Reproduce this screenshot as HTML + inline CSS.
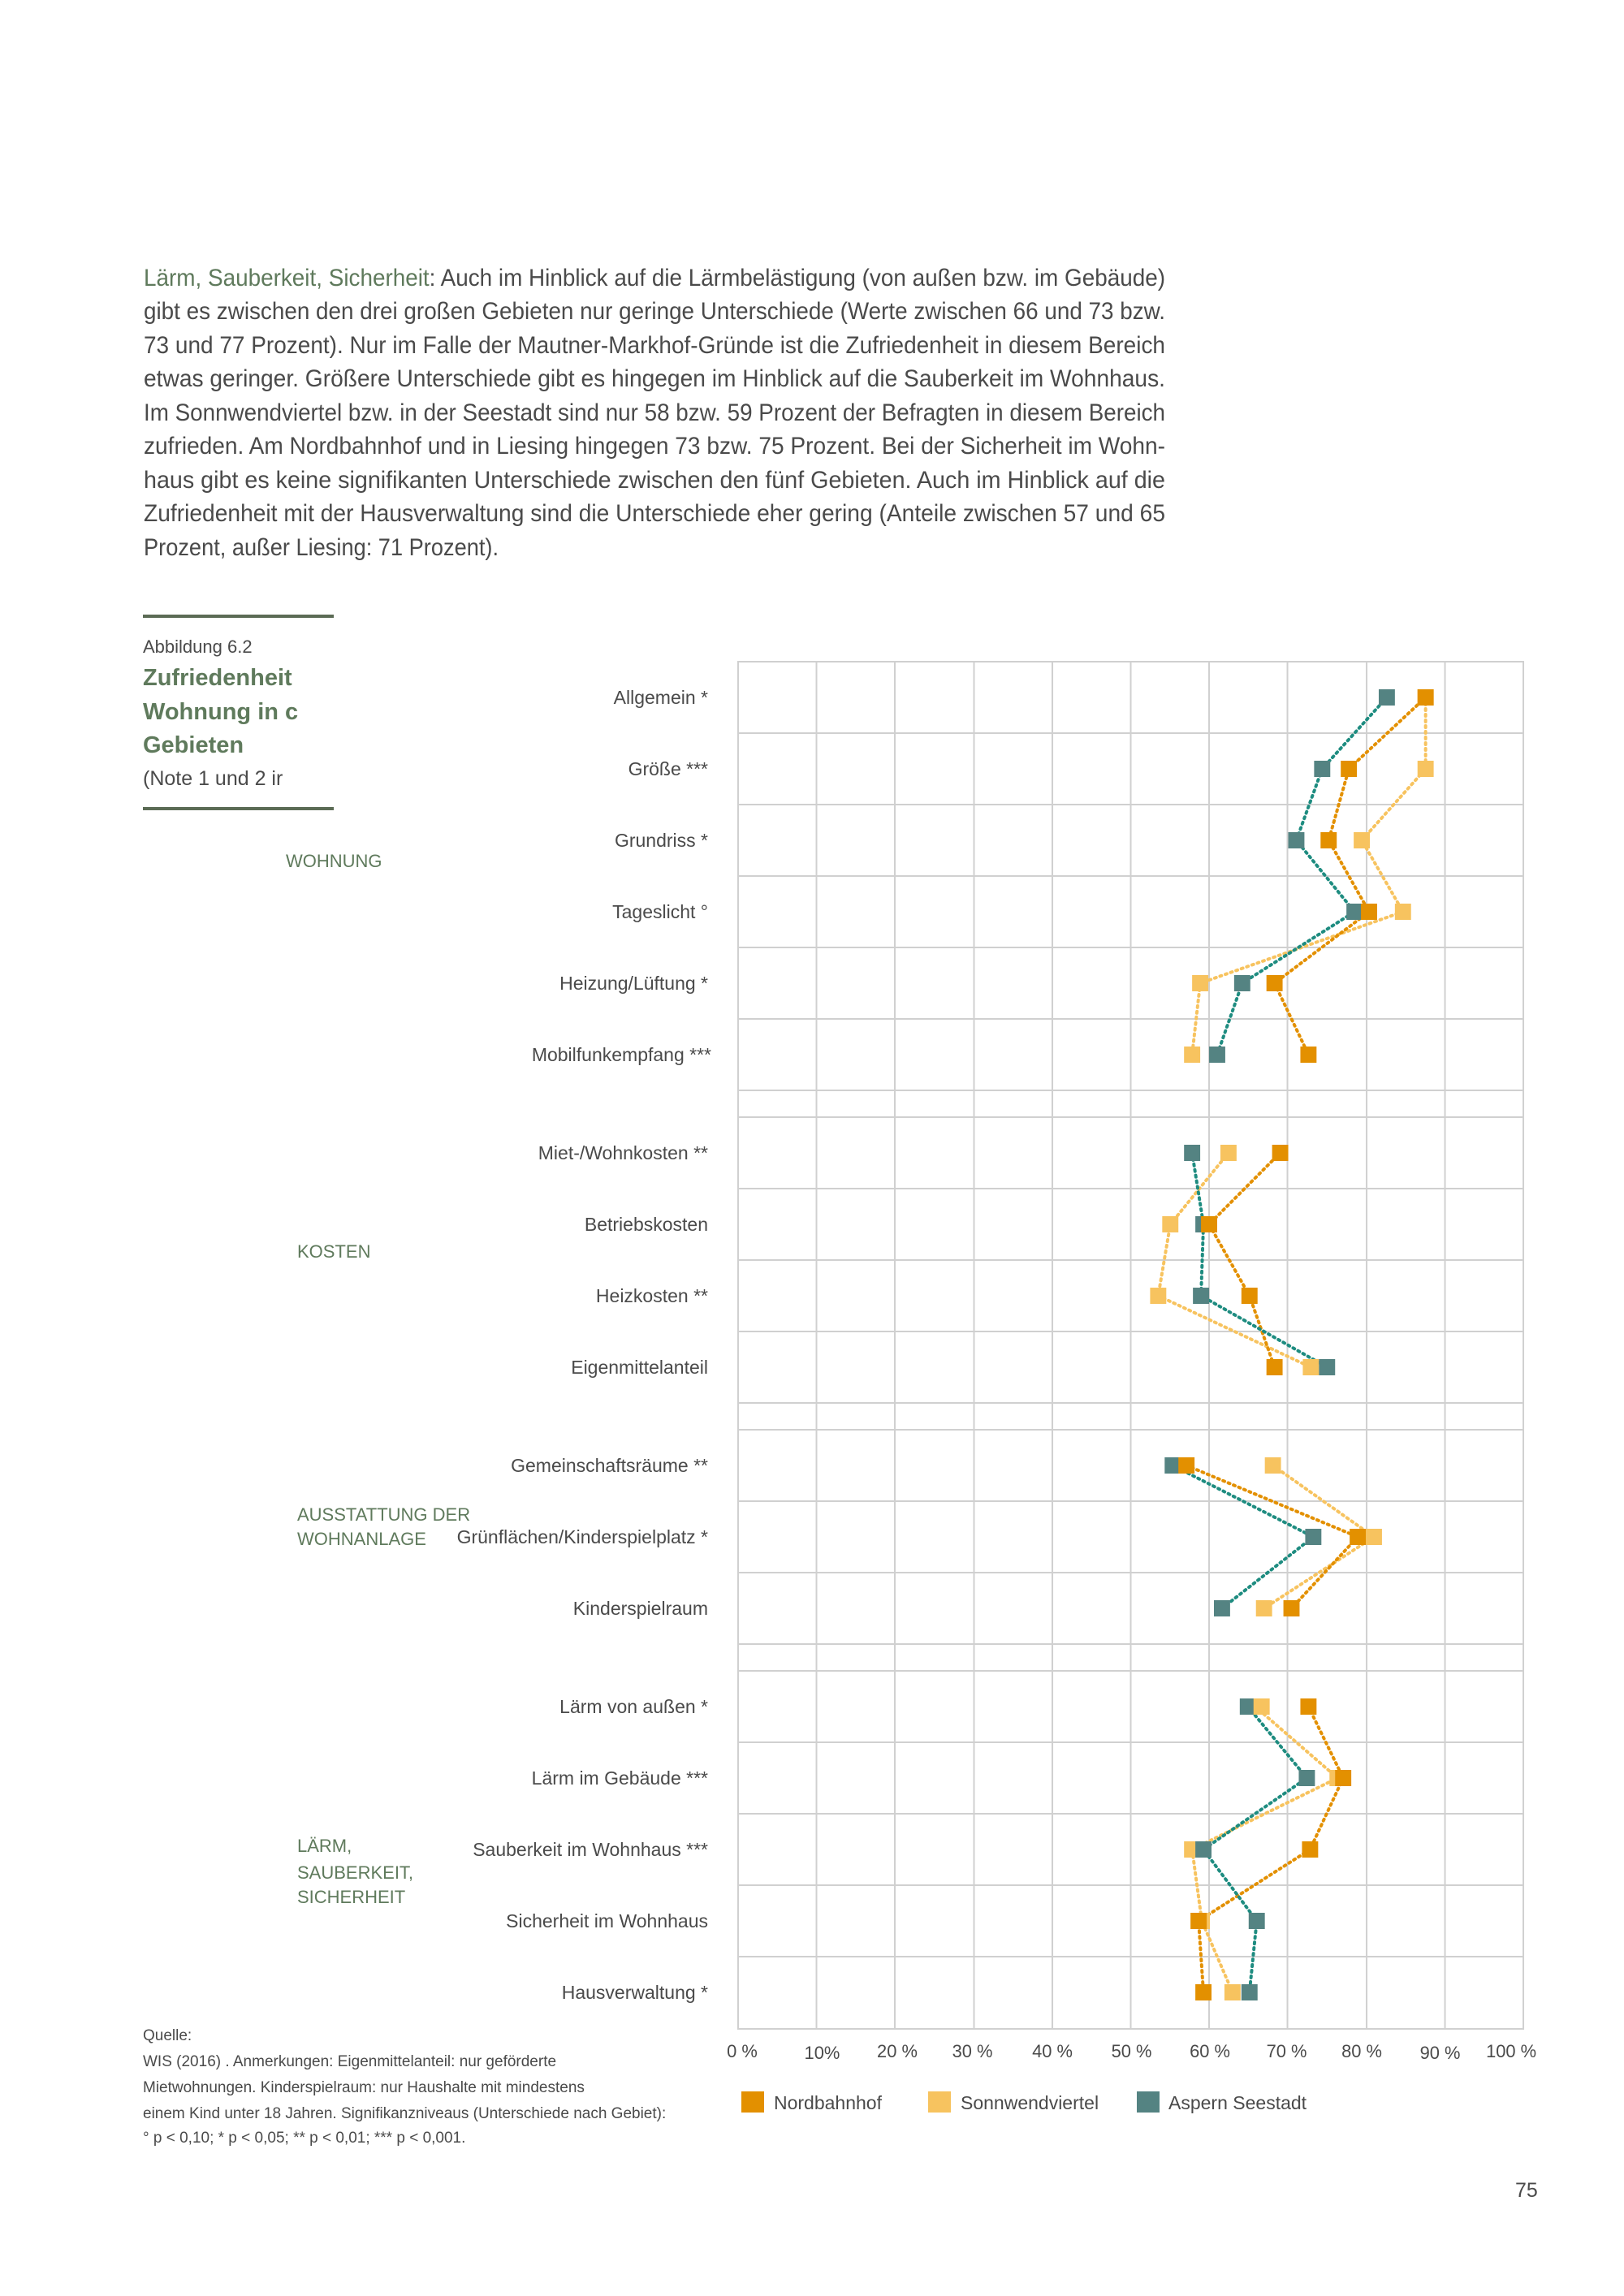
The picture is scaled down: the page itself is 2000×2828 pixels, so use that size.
<!DOCTYPE html>
<html><head><meta charset="utf-8"><style>
html,body{margin:0;padding:0;background:#fff}
svg{display:block}
text{font-family:"Liberation Sans Narrow","Liberation Sans",sans-serif;fill:#4a4a4a}
.g{fill:#5f7a5c}
</style></head><body>
<svg width="2000" height="2828" viewBox="0 0 2000 2828" xmlns="http://www.w3.org/2000/svg">
<g font-size="30">
<text x="177" y="352" textLength="1258" lengthAdjust="spacingAndGlyphs"><tspan class="g">Lärm, Sauberkeit, Sicherheit</tspan>: Auch im Hinblick auf die Lärmbelästigung (von außen bzw. im Gebäude)</text>
<text x="177" y="393" textLength="1258" lengthAdjust="spacingAndGlyphs">gibt es zwischen den drei großen Gebieten nur geringe Unterschiede (Werte zwischen 66 und 73 bzw.</text>
<text x="177" y="435" textLength="1258" lengthAdjust="spacingAndGlyphs">73 und 77 Prozent). Nur im Falle der Mautner-Markhof-Gründe ist die Zufriedenheit in diesem Bereich</text>
<text x="177" y="476" textLength="1258" lengthAdjust="spacingAndGlyphs">etwas geringer. Größere Unterschiede gibt es hingegen im Hinblick auf die Sauberkeit im Wohnhaus.</text>
<text x="177" y="518" textLength="1258" lengthAdjust="spacingAndGlyphs">Im Sonnwendviertel bzw. in der Seestadt sind nur 58 bzw. 59 Prozent der Befragten in diesem Bereich</text>
<text x="177" y="559" textLength="1258" lengthAdjust="spacingAndGlyphs">zufrieden. Am Nordbahnhof und in Liesing hingegen 73 bzw. 75 Prozent. Bei der Sicherheit im Wohn-</text>
<text x="177" y="601" textLength="1258" lengthAdjust="spacingAndGlyphs">haus gibt es keine signifikanten Unterschiede zwischen den fünf Gebieten. Auch im Hinblick auf die</text>
<text x="177" y="642" textLength="1258" lengthAdjust="spacingAndGlyphs">Zufriedenheit mit der Hausverwaltung sind die Unterschiede eher gering (Anteile zwischen 57 und 65</text>
<text x="177" y="684" textLength="437" lengthAdjust="spacingAndGlyphs">Prozent, außer Liesing: 71 Prozent).</text>
</g>
<rect x="176" y="757" width="235" height="4" fill="#5b6b55"/>
<rect x="176" y="994" width="235" height="4" fill="#5b6b55"/>
<text x="176" y="804" font-size="22">Abbildung 6.2</text>
<g font-size="29" font-weight="bold" class="g">
<text class="g" x="176" y="844">Zufriedenheit</text>
<text class="g" x="176" y="886">Wohnung in c</text>
<text class="g" x="176" y="927">Gebieten</text>
</g>
<text x="176" y="967" font-size="25">(Note 1 und 2 ir</text>
<g font-size="22">
<text class="g" x="352" y="1068">WOHNUNG</text>
<text class="g" x="366" y="1549">KOSTEN</text>
<text class="g" x="366" y="1873">AUSSTATTUNG DER</text>
<text class="g" x="366" y="1903">WOHNANLAGE</text>
<text class="g" x="366" y="2281">LÄRM,</text>
<text class="g" x="366" y="2314">SAUBERKEIT,</text>
<text class="g" x="366" y="2344">SICHERHEIT</text>
</g>
<g transform="translate(909,0) scale(0.9949,1) translate(-913,0)">
<!-- grid -->
<g stroke="#d0d0d0" stroke-width="2" fill="none">
<rect x="913" y="815" width="972" height="1684"/>
<path d="M1010 815V2499M1107 815V2499M1205 815V2499M1302 815V2499M1399 815V2499M1496 815V2499M1593 815V2499M1691 815V2499M1788 815V2499"/>
<path d="M913 903H1885M913 991H1885M913 1079H1885M913 1167H1885M913 1255H1885M913 1343H1885M913 1376H1885M913 1464H1885M913 1552H1885M913 1640H1885M913 1728H1885M913 1761H1885M913 1849H1885M913 1937H1885M913 2025H1885M913 2058H1885M913 2146H1885M913 2234H1885M913 2322H1885M913 2410H1885"/>
</g>
<g font-size="22" text-anchor="middle">
<text x="918" y="2534">0 %</text><text x="1017" y="2536">10%</text><text x="1110" y="2534">20 %</text><text x="1203" y="2534">30 %</text><text x="1302" y="2534">40 %</text><text x="1400" y="2534">50 %</text><text x="1497" y="2534">60 %</text><text x="1592" y="2534">70 %</text><text x="1685" y="2534">80 %</text><text x="1782" y="2536">90 %</text><text x="1870" y="2534">100 %</text>
</g>
<!-- series lines -->
<g fill="none" stroke-width="4" stroke-dasharray="2 5" stroke-linecap="round">
<polyline stroke="#f7c35f" points="1764,859 1764,947 1685,1035 1736,1123 1485,1211 1475,1299"/>
<polyline stroke="#e39000" points="1764,859 1669,947 1644,1035 1694,1123 1577,1211 1619,1299"/>
<polyline stroke="#1e8c80" points="1716,859 1636,947 1604,1035 1676,1123 1537,1211 1506,1299"/>
<polyline stroke="#f7c35f" points="1520,1420 1448,1508 1433,1596 1622,1684"/>
<polyline stroke="#e39000" points="1584,1420 1496,1508 1546,1596 1577,1684"/>
<polyline stroke="#1e8c80" points="1475,1420 1489,1508 1486,1596 1642,1684"/>
<polyline stroke="#f7c35f" points="1575,1805 1700,1893 1564,1981"/>
<polyline stroke="#e39000" points="1468,1805 1680,1893 1598,1981"/>
<polyline stroke="#1e8c80" points="1451,1805 1625,1893 1512,1981"/>
<polyline stroke="#f7c35f" points="1553,2102 1655,2190 1475,2278 1487,2366 1525,2454"/>
<polyline stroke="#e39000" points="1619,2102 1662,2190 1621,2278 1483,2366 1489,2454"/>
<polyline stroke="#1e8c80" points="1544,2102 1617,2190 1489,2278 1555,2366 1546,2454"/>
</g>
<g fill="#f7c35f">
<rect x="1754" y="849" width="20" height="20"/><rect x="1754" y="937" width="20" height="20"/><rect x="1675" y="1025" width="20" height="20"/><rect x="1726" y="1113" width="20" height="20"/><rect x="1475" y="1201" width="20" height="20"/><rect x="1465" y="1289" width="20" height="20"/>
<rect x="1510" y="1410" width="20" height="20"/><rect x="1438" y="1498" width="20" height="20"/><rect x="1423" y="1586" width="20" height="20"/><rect x="1612" y="1674" width="20" height="20"/>
<rect x="1565" y="1795" width="20" height="20"/><rect x="1690" y="1883" width="20" height="20"/><rect x="1554" y="1971" width="20" height="20"/>
<rect x="1543" y="2092" width="20" height="20"/><rect x="1645" y="2180" width="20" height="20"/><rect x="1465" y="2268" width="20" height="20"/><rect x="1477" y="2356" width="20" height="20"/><rect x="1515" y="2444" width="20" height="20"/>
</g>
<g fill="#548382">
<rect x="1706" y="849" width="20" height="20"/><rect x="1626" y="937" width="20" height="20"/><rect x="1594" y="1025" width="20" height="20"/><rect x="1666" y="1113" width="20" height="20"/><rect x="1527" y="1201" width="20" height="20"/><rect x="1496" y="1289" width="20" height="20"/>
<rect x="1465" y="1410" width="20" height="20"/><rect x="1479" y="1498" width="20" height="20"/><rect x="1476" y="1586" width="20" height="20"/><rect x="1632" y="1674" width="20" height="20"/>
<rect x="1441" y="1795" width="20" height="20"/><rect x="1615" y="1883" width="20" height="20"/><rect x="1502" y="1971" width="20" height="20"/>
<rect x="1534" y="2092" width="20" height="20"/><rect x="1607" y="2180" width="20" height="20"/><rect x="1479" y="2268" width="20" height="20"/><rect x="1545" y="2356" width="20" height="20"/><rect x="1536" y="2444" width="20" height="20"/>
</g>
<g fill="#e39000">
<rect x="1754" y="849" width="20" height="20"/><rect x="1659" y="937" width="20" height="20"/><rect x="1634" y="1025" width="20" height="20"/><rect x="1684" y="1113" width="20" height="20"/><rect x="1567" y="1201" width="20" height="20"/><rect x="1609" y="1289" width="20" height="20"/>
<rect x="1574" y="1410" width="20" height="20"/><rect x="1486" y="1498" width="20" height="20"/><rect x="1536" y="1586" width="20" height="20"/><rect x="1567" y="1674" width="20" height="20"/>
<rect x="1458" y="1795" width="20" height="20"/><rect x="1670" y="1883" width="20" height="20"/><rect x="1588" y="1971" width="20" height="20"/>
<rect x="1609" y="2092" width="20" height="20"/><rect x="1652" y="2180" width="20" height="20"/><rect x="1611" y="2268" width="20" height="20"/><rect x="1473" y="2356" width="20" height="20"/><rect x="1479" y="2444" width="20" height="20"/>
</g>
<rect x="1551" y="2092" width="20" height="20" fill="#f7c35f"/>
</g>
<g font-size="23" text-anchor="end">
<text x="872" y="867">Allgemein *</text>
<text x="872" y="955">Größe ***</text>
<text x="872" y="1043">Grundriss *</text>
<text x="872" y="1131">Tageslicht °</text>
<text x="872" y="1219">Heizung/Lüftung *</text>
<text x="876" y="1307">Mobilfunkempfang ***</text>
<text x="872" y="1428">Miet-/Wohnkosten **</text>
<text x="872" y="1516">Betriebskosten</text>
<text x="872" y="1604">Heizkosten **</text>
<text x="872" y="1692">Eigenmittelanteil</text>
<text x="872" y="1813">Gemeinschaftsräume **</text>
<text x="872" y="1901">Grünflächen/Kinderspielplatz *</text>
<text x="872" y="1989">Kinderspielraum</text>
<text x="872" y="2110">Lärm von außen *</text>
<text x="872" y="2198">Lärm im Gebäude ***</text>
<text x="872" y="2286">Sauberkeit im Wohnhaus ***</text>
<text x="872" y="2374">Sicherheit im Wohnhaus</text>
<text x="872" y="2462">Hausverwaltung *</text>
</g>
<rect x="913" y="2576" width="28" height="26" fill="#e39000"/>
<text x="953" y="2598" font-size="23">Nordbahnhof</text>
<rect x="1143" y="2576" width="28" height="26" fill="#f7c35f"/>
<text x="1183" y="2598" font-size="23">Sonnwendviertel</text>
<rect x="1400" y="2576" width="28" height="26" fill="#548382"/>
<text x="1439" y="2598" font-size="23">Aspern Seestadt</text>
<g font-size="19">
<text x="176" y="2513">Quelle:</text>
<text x="176" y="2545">WIS (2016) . Anmerkungen: Eigenmittelanteil: nur geförderte</text>
<text x="176" y="2577">Mietwohnungen. Kinderspielraum: nur Haushalte mit mindestens</text>
<text x="176" y="2609">einem Kind unter 18 Jahren. Signifikanzniveaus (Unterschiede nach Gebiet):</text>
<text x="176" y="2639">° p &lt; 0,10; * p &lt; 0,05; ** p &lt; 0,01; *** p &lt; 0,001.</text>
</g>
<text x="1866" y="2706" font-size="25" fill="#777">75</text>
</svg>
</body></html>
